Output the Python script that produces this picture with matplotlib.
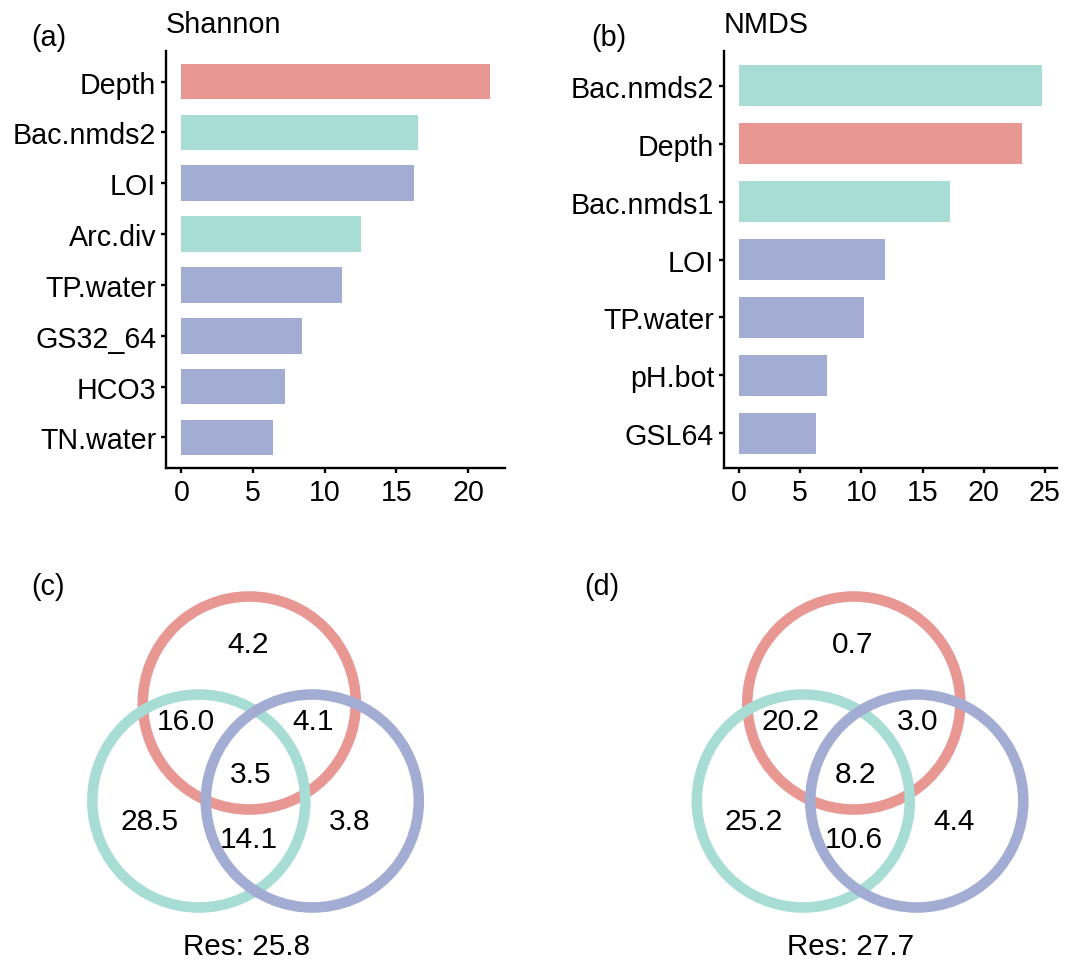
import numpy as np
import matplotlib
matplotlib.use('Agg')
import matplotlib.pyplot as plt
from matplotlib.patches import Circle

plt.rcParams['font.family'] = ['Liberation Sans', 'DejaVu Sans']

# ---- data ----
shannon_vars = ['Depth', 'Bac.nmds2', 'LOI', 'Arc.div', 'TP.water', 'GS32_64', 'HCO3', 'TN.water']
shannon_vals = [21.5, 16.5, 16.2, 12.5, 11.2, 8.4, 7.25, 6.4]
shannon_grp = ['depth', 'bio', 'env', 'bio', 'env', 'env', 'env', 'env']

nmds_vars = ['Bac.nmds2', 'Depth', 'Bac.nmds1', 'LOI', 'TP.water', 'pH.bot', 'GSL64']
nmds_vals = [24.75, 23.15, 17.2, 11.95, 10.2, 7.15, 6.3]
nmds_grp = ['bio', 'depth', 'bio', 'env', 'env', 'env', 'env']

# venn region labels: depth only, depth&bio, depth&env, all, bio only, bio&env, env only
venn_shannon = ['4.2', '16.0', '4.1', '3.5', '28.5', '14.1', '3.8']
venn_nmds = ['0.7', '20.2', '3.0', '8.2', '25.2', '10.6', '4.4']
res_shannon = 25.8
res_nmds = 27.7

colors = {'depth': '#E89792', 'bio': '#A8DDD5', 'env': '#A3ACD2'}

W, H = 1072, 962
fig = plt.figure(figsize=(W/100, H/100), dpi=100)

def px_axes(l, r, t, b):
    return fig.add_axes([l/W, 1-b/H, (r-l)/W, (b-t)/H])

def barpanel(ax, names, vals, grps, xticks):
    y = np.arange(len(names))
    ax.barh(y, vals, height=0.7, color=[colors[g] for g in grps])
    ax.set_yticks(y)
    ax.set_yticklabels(names)
    ax.set_ylim(len(names)-0.4, -0.6)
    mx = max(vals)
    ax.set_xlim(-0.05*mx, 1.05*mx)
    ax.set_xticks(xticks)
    for s in ['top', 'right']:
        ax.spines[s].set_visible(False)
    for s in ['left', 'bottom']:
        ax.spines[s].set_linewidth(1.7)
    ax.tick_params(width=1.7, length=3.6, labelsize=20.6, pad=3.5, colors='black')

ax1 = px_axes(166, 505, 52, 469)
barpanel(ax1, shannon_vars, shannon_vals, shannon_grp, [0, 5, 10, 15, 20])
ax2 = px_axes(724, 1057, 52, 469)
barpanel(ax2, nmds_vars, nmds_vals, nmds_grp, [0, 5, 10, 15, 20, 25])

fig.text(166/W, 1-25/H, 'Shannon', fontsize=20.8, va='center', ha='left')
fig.text(724/W, 1-25/H, 'NMDS', fontsize=20.8, va='center', ha='left')
fig.text(31/W, 1-38/H, '(a)', fontsize=20.8, va='center', ha='left')
fig.text(591/W, 1-38/H, '(b)', fontsize=20.8, va='center', ha='left')
fig.text(31/W, 1-587/H, '(c)', fontsize=20.8, va='center', ha='left')
fig.text(584/W, 1-587/H, '(d)', fontsize=20.8, va='center', ha='left')

# venn overlay in pixel coordinates
axv = fig.add_axes([0, 0, 1, 1])
axv.set_xlim(0, W)
axv.set_ylim(H, 0)
axv.axis('off')

r = 106.5
circ_off = [(0, 0, 'depth'), (-50.5, 98, 'bio'), (63, 98, 'env')]
lab_off = [(-1.5, -59), (-63, 18.5), (64, 18.5), (1.3, 71.5), (-100, 118.5), (0, 136), (100, 118.5)]

def venn(cx, cy, labels, res):
    for dx, dy, g in circ_off:
        axv.add_patch(Circle((cx+dx, cy+dy), r, fill=False, lw=7.6, ec=colors[g]))
    for (dx, dy), t in zip(lab_off, labels):
        axv.text(cx+dx, cy+dy, t, fontsize=21.5, ha='center', va='center')
    axv.text(cx-3, cy+243.5, f'Res: {res}', fontsize=21.3, ha='center', va='center')

venn(249.3, 704, venn_shannon, res_shannon)
venn(853.8, 704, venn_nmds, res_nmds)

fig.savefig('out.png', dpi=100)
